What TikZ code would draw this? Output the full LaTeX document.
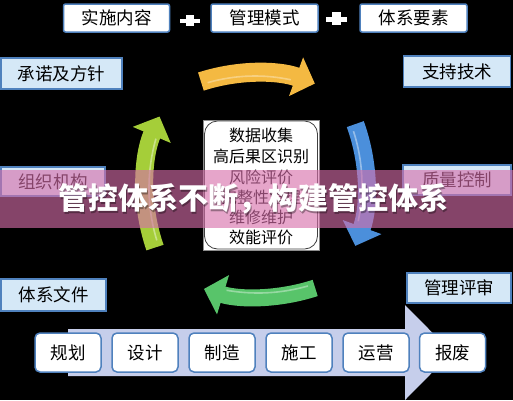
\documentclass[tikz,border=0pt]{standalone}
\usepackage{fontspec}
\setmainfont{Noto Sans CJK SC}
\usetikzlibrary{arrows.meta}
\definecolor{bord}{HTML}{4F81BD}
\definecolor{sidefill}{HTML}{D5E8F7}
\definecolor{bigarrow}{HTML}{C6CEEB}
\definecolor{orangec}{HTML}{F4B942}
\definecolor{limec}{HTML}{A5CE39}
\definecolor{bluec}{HTML}{4B8FDB}
\definecolor{greenc}{HTML}{58C46A}
\definecolor{bannerc}{RGB}{215,110,170}
\tikzset{
  topbox/.style={draw=bord, line width=1.5pt, fill=white, rounded corners=2pt, inner sep=0pt,
    minimum width=106pt, minimum height=28pt, font=\fontsize{17.5}{18}\selectfont},
  sidebox/.style={draw=bord, line width=1.5pt, fill=sidefill, inner sep=0pt,
    minimum height=30pt, font=\fontsize{17.5}{18}\selectfont},
  stagebox/.style={draw=bord, line width=1.5pt, fill=white, rounded corners=5pt, inner sep=0pt,
    minimum width=66pt, minimum height=39pt, font=\fontsize{17.5}{18}\selectfont},
  centertext/.style={inner sep=0pt, font=\fontsize{16}{16}\selectfont},
  cyclearrow/.style={line width=18pt, -{Triangle[length=20pt,width=40pt]}},
  highlight/.style={line width=1.6pt, opacity=0.75},
}
\begin{document}
\begin{tikzpicture}[x=1pt,y=-1pt]
\fill[black] (0,0) rectangle (513,400);
\useasboundingbox (0,0) rectangle (513,400);

% top row
\node[topbox] (content) at (116.5,18) {实施内容};
\node[topbox, minimum width=107pt] (mode) at (264.5,18) {管理模式};
\node[topbox, minimum width=107pt] (elements) at (413.5,18) {体系要素};
% plus signs
\fill[white] (180,18.5) rectangle (200,23);
\fill[white] (186,14.5) rectangle (194,26);
\fill[white] (326,16.5) rectangle (347,21.5);
\fill[white] (332,12) rectangle (341,25);

% side boxes
\node[sidebox, minimum width=121pt, minimum height=31pt] (policy) at (61.5,73.5) {承诺及方针};
\node[sidebox, minimum width=107pt, minimum height=31pt] (tech) at (457,71.5) {支持技术};
\node[sidebox, minimum width=104pt, minimum height=29pt] (org) at (53,181.5) {组织机构};
\node[sidebox, minimum width=108pt] (quality) at (457,180) {质量控制};
\node[sidebox, minimum width=105pt, minimum height=32pt] (docs) at (53.5,295) {体系文件};
\node[sidebox, minimum width=104pt] (review) at (459,288) {管理评审};

% centre box
\fill[white, draw=black!45, line width=0.5pt] (203,120) rectangle (319,250);
\draw[black!75, line width=0.8pt, rounded corners=13pt] (204.5,121) rectangle (317.5,249);
\node[centertext] (t1) at (261,135) {数据收集};
\node[centertext] (t2) at (261,156) {高后果区识别};
\node[centertext] (t3) at (261,177) {风险评价};
\node[centertext] (t4) at (261,197) {完整性管理};
\node[centertext] (t5) at (261,217) {维修维护};
\node[centertext] (t6) at (261,237) {效能评价};

% cycle arrows
\path (255,248) ++(-108:175) coordinate (topstart);
\draw[cyclearrow, orangec, line width=19pt] (topstart) arc[start angle=-108, end angle=-70, radius=175];
\path (255,248) ++(-106:172) coordinate (tophl);
\draw[highlight, orangec!55!white] (tophl) arc[start angle=-106, end angle=-78, radius=172];

\path (188,185) ++(-20:178) coordinate (rightstart);
\draw[cyclearrow, bluec] (rightstart) arc[start angle=-20, end angle=20, radius=178];
\path (188,185) ++(-18:174) coordinate (righthl);
\draw[highlight, bluec!45!white] (righthl) arc[start angle=-18, end angle=12, radius=174];

\path (258,112) ++(72:185) coordinate (botstart);
\draw[cyclearrow, greenc, line width=17pt] (botstart) arc[start angle=72, end angle=107, radius=185];
\path (258,112) ++(74:181) coordinate (bothl);
\draw[highlight, greenc!50!white] (bothl) arc[start angle=74, end angle=100, radius=181];

\path (328,188) ++(161:183) coordinate (leftstart);
\draw[cyclearrow, limec] (leftstart) arc[start angle=161, end angle=203, radius=183];
\path (328,188) ++(163:179) coordinate (lefthl);
\draw[highlight, limec!45!white] (lefthl) arc[start angle=163, end angle=196, radius=179];

% life-cycle arrow
\fill[bigarrow] (68,329) -- (405,329) -- (405,305) -- (452,352.5) -- (405,400) -- (405,376) -- (68,376) -- cycle;
\node[stagebox] (plan) at (68,352.5) {规划};
\node[stagebox] (design) at (145,352.5) {设计};
\node[stagebox] (make) at (222,352.5) {制造};
\node[stagebox] (build) at (299,352.5) {施工};
\node[stagebox] (run) at (376,352.5) {运营};
\node[stagebox] (scrap) at (452.5,352.5) {报废};

% banner overlay
\fill[bannerc, opacity=0.62] (0,170) rectangle (513,228);
\node[inner sep=0pt, text=black, opacity=0.35, font=\fontsize{30}{30}\selectfont\bfseries] (bannershadow) at (254.5,200.5) {管控体系不断，构建管控体系};
\node[inner sep=0pt, text=white, font=\fontsize{30}{30}\selectfont\bfseries] (banner) at (253,199) {管控体系不断，构建管控体系};
\end{tikzpicture}
\end{document}
